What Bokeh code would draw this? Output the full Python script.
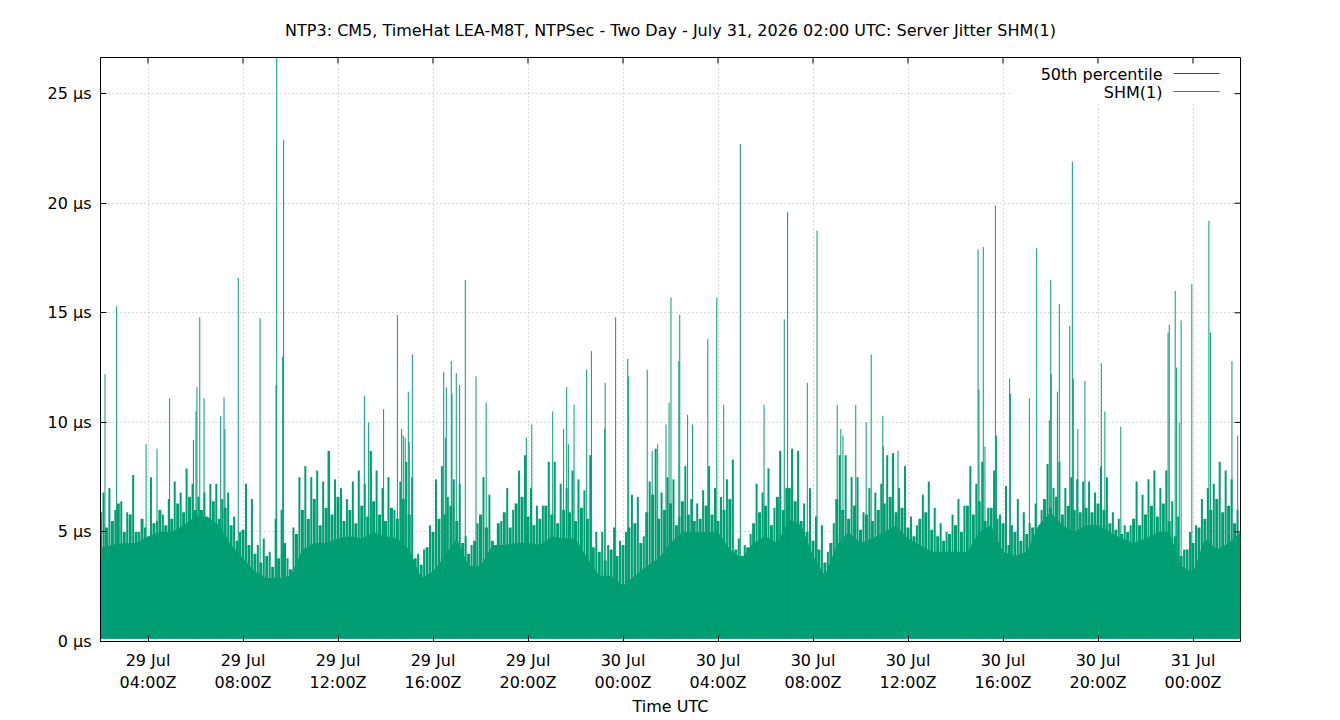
from bokeh.plotting import figure
from bokeh.models import Range1d, FixedTicker, Label, BoxAnnotation
from bokeh.embed import file_html
from bokeh.resources import INLINE

TITLE = "NTP3: CM5, TimeHat LEA-M8T, NTPSec - Two Day - July 31, 2026 02:00 UTC: Server Jitter SHM(1)"

# x axis: hours since 29 Jul 02:00Z (two days)
tick_hours = [2, 6, 10, 14, 18, 22, 26, 30, 34, 38, 42, 46]
tick_labels = ["29 Jul\n04:00Z", "29 Jul\n08:00Z", "29 Jul\n12:00Z", "29 Jul\n16:00Z",
               "29 Jul\n20:00Z", "30 Jul\n00:00Z", "30 Jul\n04:00Z", "30 Jul\n08:00Z",
               "30 Jul\n12:00Z", "30 Jul\n16:00Z", "30 Jul\n20:00Z", "31 Jul\n00:00Z"]
y_ticks = [0, 5, 10, 15, 20, 25]
y_tick_labels = ["0 µs", "5 µs", "10 µs", "15 µs", "20 µs", "25 µs"]

# dense body of jitter samples (top of solid band), every 30 minutes, µs
body_us = [4.3, 4.4, 4.5, 4.5, 4.8, 5.0, 5.0, 5.3, 5.7, 5.7, 5.3, 4.4, 3.8, 3.2, 2.9, 2.9, 3.0, 4.2, 4.5, 4.5,
           4.7, 4.8, 4.7, 5.0, 4.8, 4.7,
           4.2, 2.9, 3.2, 3.9, 4.7, 3.45, 3.45, 4.4, 4.4, 4.5, 4.5, 4.4, 4.8, 4.7, 4.7, 3.8, 3.0, 3.0, 2.55, 3.0,
           3.45, 3.8, 4.5, 5.0, 5.0,
           5.0, 5.0, 4.2, 3.8, 4.5, 4.8, 4.5, 5.6, 5.3, 3.9, 3.0, 4.4, 5.0, 4.5, 4.7, 5.0, 5.3, 4.7, 4.4, 4.1,
           4.1, 4.1, 4.1, 5.0, 5.3,
           4.1, 3.9, 4.1, 5.3, 5.9, 5.3, 5.0, 5.3, 5.3, 5.0, 4.7, 4.5, 4.7, 5.0, 5.0, 3.45, 3.15, 4.7, 4.2, 4.5,
           5.0]
body_hours = [0.5 * i for i in range(len(body_us))]

# medium samples, one per 15 minutes (on the quarter hour), µs
mid_us = [5.9, 5.2, 5.5, 6.3, 5.0, 5.8, 5.0, 5.6, 4.6, 5.4, 6.0, 5.3, 5.6, 6.3, 5.9, 6.6, 6.0, 6.0, 5.5, 6.4,
          5.6, 6.1, 5.3, 4.6, 5.1, 4.4, 4.0, 3.6, 3.9, 3.4, 3.8, 4.5, 3.3, 4.9, 6.0, 5.6, 6.5, 5.3, 6.1, 5.8,
          6.6, 5.5, 6.0, 5.4, 6.2, 5.7, 6.4, 5.8, 5.5, 6.1, 5.6,
          6.5, 5.8, 3.8, 3.5, 4.3, 5.0, 5.6, 5.8, 6.2, 5.5, 4.5, 4.0, 4.6, 5.8, 5.2, 4.6, 5.4, 5.9, 5.2, 6.3,
          6.6, 5.7, 5.3, 5.6, 6.2, 5.8, 5.4, 6.0, 5.9, 5.5, 6.1, 5.6, 4.3, 4.1, 3.7, 4.2, 3.9, 4.4, 5.2, 5.4,
          4.5, 5.9, 6.7, 5.6, 6.0, 6.3, 5.3, 6.4, 5.8, 5.5,
          5.6, 6.2, 5.8, 5.5, 6.0, 6.5, 4.2, 3.9, 4.3, 5.4, 5.9, 6.2, 5.3, 6.6, 6.0, 7.0, 6.4, 5.5, 5.0, 4.6,
          4.2, 3.6, 4.5, 6.5, 6.0, 5.6, 6.2, 5.1, 5.8, 5.5, 6.0, 6.3, 6.6, 5.9, 6.1, 5.2, 4.8, 5.6, 5.9, 5.1,
          4.8, 4.6, 4.9, 5.3, 5.0, 6.2, 5.8, 6.4, 5.5, 6.1, 5.6,
          5.4, 4.4, 5.0, 4.6, 4.9, 5.2, 5.0, 6.5, 6.1, 6.6, 5.8, 6.2, 6.0, 5.9, 6.1, 5.9, 6.3, 6.0, 5.4, 5.1,
          4.9, 5.0, 5.6, 5.3, 5.8, 6.2, 5.7, 6.3, 5.5, 4.8, 3.9, 4.2, 4.5, 5.2, 5.6, 6.0, 6.5, 5.9, 6.2, 5.4]
mid_hours = [0.25 * i for i in range(len(mid_us))]

# taller ordinary samples, one per 15 minutes (mid-window), µs
fringe_us = [6.8, 7.0, 6.0, 6.4, 5.9, 7.6, 5.0, 5.2, 7.5, 5.5, 5.8, 6.5, 7.3, 6.8, 7.9, 7.2, 6.6, 6.8, 7.2, 7.2,
             6.5, 6.8, 5.7, 5.0, 7.2, 6.5, 4.4, 4.7, 4.1, 5.6, 6.0, 3.8, 5.2, 7.5, 8.0, 7.5, 7.8, 7.3, 8.7, 7.4,
             7.0, 6.5, 7.3, 7.8, 7.2, 8.7, 7.8, 7.0, 7.5, 6.0, 7.3,
             8.2, 7.5, 4.0, 4.2, 5.3, 7.4, 8.0, 6.6, 7.4, 7.2, 4.8, 4.4, 5.4, 7.5, 6.7, 4.1, 5.5, 7.0, 6.0, 7.8,
             8.5, 7.0, 6.2, 6.2, 8.2, 8.2, 7.2, 7.0, 7.8, 7.4, 6.9, 8.5, 5.0, 5.0, 4.4, 5.2, 4.6, 5.0, 6.7, 6.6,
             4.8, 7.3, 8.8, 6.8, 7.5, 7.4, 5.7, 8.0, 6.5, 6.3,
             6.9, 8.0, 7.0, 6.6, 7.4, 8.3, 4.7, 4.4, 4.9, 7.2, 6.8, 7.9, 6.1, 8.7, 7.0, 8.8, 8.7, 6.3, 7.0, 5.7,
             5.3, 4.1, 5.4, 8.5, 8.5, 7.5, 7.5, 5.9, 7.0, 6.8, 7.2, 8.5, 8.6, 7.0, 8.0, 5.7, 5.3, 6.7, 7.3, 6.1,
             5.4, 5.0, 5.8, 6.5, 6.2, 8.0, 7.2, 8.2, 6.1, 7.8, 5.8,
             7.1, 5.3, 6.5, 5.9, 5.4, 6.3, 6.0, 8.1, 7.0, 8.2, 7.0, 7.5, 7.4, 7.3, 7.3, 6.8, 8.0, 7.5, 5.9, 5.6,
             5.3, 5.3, 7.3, 6.7, 7.4, 7.8, 7.0, 7.8, 6.4, 5.7, 4.2, 5.0, 5.3, 6.5, 7.0, 7.2, 8.2, 7.8, 7.4, 6.0]
fringe_hours = [0.125 + 0.25 * i for i in range(len(fringe_us))]

# individual jitter spikes: hours since start, µs
spike_hours = [0.19, 0.68, 1.92, 2.38, 2.91, 3.91, 4.02, 4.06, 4.18, 4.36, 5.06, 5.20, 5.24, 5.80, 6.72,
               7.39, 7.42, 7.67, 7.71, 9.58, 11.11, 11.29, 11.40, 11.92, 12.50, 12.68, 12.75, 12.83, 12.96,
               13.00, 13.13, 14.45, 14.52, 14.56, 14.77, 14.80, 14.98, 15.12, 15.36, 15.81, 16.24, 17.93,
               18.16, 19.04, 19.50, 19.63, 19.70, 19.94, 20.47, 20.67, 21.23, 21.25, 21.69, 22.20, 22.24,
               23.02, 23.23, 23.46, 23.81, 23.94, 24.02, 24.35, 24.39, 24.72, 24.93, 25.57, 25.95, 26.24,
               26.94, 27.94, 28.61, 28.79, 28.93, 29.10, 29.37, 29.76, 30.17, 31.02, 31.17, 31.26, 31.80,
               32.24, 32.45, 32.94, 32.96, 33.34, 33.58, 36.95, 36.99, 37.17, 37.24, 37.68, 37.73, 38.28,
               38.31, 39.11, 39.42, 39.95, 40.01, 40.03, 40.29, 40.37, 40.81, 40.92, 40.96, 41.15, 41.45,
               42.14, 42.29, 42.96, 44.95, 45.00, 45.25, 45.31, 45.42, 45.50, 45.95, 46.67, 46.74, 47.64,
               47.88]
spike_us = [12.2, 15.3, 9.0, 8.8, 11.1, 9.2, 10.5, 11.6, 14.8, 11.1, 10.3, 11.15, 9.7, 16.6, 14.75,
            11.7, 27.5, 13.0, 22.9, 8.7, 11.2, 10.0, 8.7, 10.6, 14.9, 9.7, 9.4, 9.3, 11.4,
            9.1, 13.1, 12.3, 9.3, 11.6, 12.8, 11.3, 12.25, 11.7, 16.5, 12.1, 10.9, 9.3,
            9.9, 10.5, 9.7, 11.6, 9.0, 10.8, 12.4, 13.25, 9.7, 11.8, 14.8, 12.9, 12.1,
            12.4, 8.7, 9.0, 9.9, 10.9, 15.7, 12.8, 14.9, 10.35, 9.9, 13.8, 15.7, 10.8,
            22.7, 10.8, 8.7, 14.7, 19.6, 8.75, 8.7, 11.8, 18.75, 10.8, 9.7, 9.4, 10.8,
            10.0, 13.1, 10.3, 8.9, 8.5, 8.7, 17.9, 11.5, 18.0, 8.9, 19.9, 9.4, 12.0,
            11.3, 11.1, 17.95, 10.1, 16.5, 12.2, 11.4, 15.4, 14.4, 21.9, 12.0, 9.7, 11.9,
            12.7, 10.5, 9.8, 14.1, 14.45, 16.0, 12.5, 10.0, 14.65, 16.3, 19.2, 14.1, 12.8,
            9.4]

floor_us = 0.12      # lowest jitter samples
median_us = 1.6      # 50th percentile

GREEN = "#009e73"
PURPLE = "#9400d3"
FONT = "DejaVu Sans"
FS = "16px"

X0, X1 = 0, 48
Y0, Y1 = 0, 26.65
FL, FR, FT, FB = 100, 1240, 57, 641


def xd(px):
    return X0 + (px - FL) / (FR - FL) * (X1 - X0)


def yd(py):
    return Y0 + (FB - py) / (FB - FT) * (Y1 - Y0)


p = figure(width=1340, height=720, output_backend="svg", toolbar_location=None,
           x_range=Range1d(X0, X1), y_range=Range1d(Y0, Y1),
           min_border_left=FL, min_border_right=1340 - FR, min_border_top=FT,
           min_border_bottom=720 - FB)
p.background_fill_color = "white"
p.border_fill_color = "white"
p.outline_line_color = "black"
p.outline_line_width = 1

p.title.text = TITLE
p.title.align = "center"
p.title.text_font = FONT
p.title.text_font_size = FS
p.title.text_font_style = "normal"
p.title.text_color = "black"
p.title.standoff = 36

# axes
xa = p.xaxis[0]
xa.ticker = FixedTicker(ticks=tick_hours)
xa.major_label_overrides = dict(zip(tick_hours, tick_labels))
xa.axis_label = "Time UTC"
ya = p.yaxis[0]
ya.ticker = FixedTicker(ticks=y_ticks)
ya.major_label_overrides = dict(zip(y_ticks, y_tick_labels))

for ax in (xa, ya):
    ax.major_label_text_font = FONT
    ax.major_label_text_font_size = FS
    ax.major_label_text_color = "black"
    ax.axis_label_text_font = FONT
    ax.axis_label_text_font_size = FS
    ax.axis_label_text_font_style = "normal"
    ax.axis_label_text_color = "black"
    ax.major_tick_in = 6
    ax.major_tick_out = 0
    ax.minor_tick_line_color = None
    ax.axis_line_color = "black"
    ax.major_tick_line_color = "black"
xa.major_label_standoff = 9
xa.axis_label_standoff = 2
ya.major_label_standoff = 9

for g in (p.xgrid[0], p.ygrid[0]):
    g.grid_line_color = "#b4b4b4"
    g.grid_line_dash = "1 3"
    g.grid_line_width = 1
p.xgrid[0].ticker = FixedTicker(ticks=tick_hours)
p.ygrid[0].ticker = FixedTicker(ticks=y_ticks)

# legend background (hides grid behind key)
p.add_layout(BoxAnnotation(left=xd(1012), right=xd(1229), top=yd(FT + 1), bottom=yd(103),
                           fill_color="white", fill_alpha=1, line_color=None, level="underlay"))

# 50th percentile (drawn first, hidden under dense samples)
p.line(x=[X0, X1], y=[median_us, median_us], line_color=PURPLE, line_width=1)

# SHM(1) jitter
p.varea(x=body_hours, y1=[floor_us] * len(body_hours), y2=body_us, fill_color=GREEN, fill_alpha=1)
p.segment(x0=mid_hours, y0=[floor_us] * len(mid_hours), x1=mid_hours, y1=mid_us,
          line_color=GREEN, line_width=3)
p.segment(x0=fringe_hours, y0=[floor_us] * len(fringe_hours), x1=fringe_hours, y1=fringe_us,
          line_color=GREEN, line_width=2)
p.segment(x0=spike_hours, y0=[floor_us] * len(spike_hours), x1=spike_hours, y1=spike_us,
          line_color=GREEN, line_width=1)

# mirrored tick marks on the top and right borders (gnuplot style)
tick_len_x = xd(FL + 6) - xd(FL)
tick_len_y = yd(FB - 6) - yd(FB)
p.segment(x0=tick_hours, y0=[Y1] * len(tick_hours), x1=tick_hours, y1=[Y1 - tick_len_y] * len(tick_hours),
          line_color="black", line_width=1)
p.segment(x0=[X1] * len(y_ticks), y0=y_ticks, x1=[X1 - tick_len_x] * len(y_ticks), y1=y_ticks,
          line_color="black", line_width=1)

# key (gnuplot style: text then sample line)
for txt, py, col in (("50th percentile", 74, PURPLE), ("SHM(1)", 92, GREEN)):
    p.add_layout(Label(x=xd(1162), y=yd(py), text=txt, text_align="right", text_baseline="middle",
                       text_font=FONT, text_font_size=FS, text_color="black"))
    p.segment(x0=[xd(1173)], y0=[yd(py - 1)], x1=[xd(1219)], y1=[yd(py - 1)], line_color=col,
              line_width=1)

open("out.html", "w").write(file_html(p, INLINE))
